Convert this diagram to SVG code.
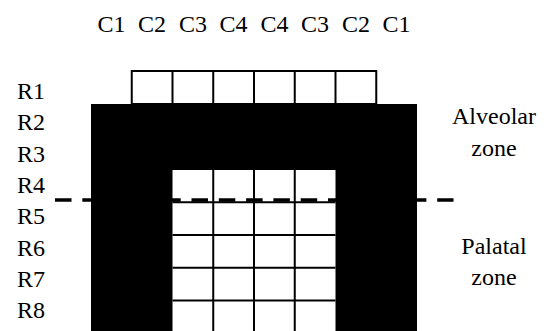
<svg xmlns="http://www.w3.org/2000/svg" width="544" height="331" viewBox="0 0 544 331">
  <style>
    text { font-family: "Liberation Serif", "Times New Roman", serif; font-size: 24px; fill: #000; }
    .mid { text-anchor: middle; }
    .grid { stroke: #000; stroke-width: 2; fill: none; }
  </style>
  <rect x="0" y="0" width="544" height="331" fill="#fff"/>

  <g id="column-labels">
    <text class="mid" x="111.4" y="32">C1</text>
    <text class="mid" x="152.1" y="32">C2</text>
    <text class="mid" x="192.9" y="32">C3</text>
    <text class="mid" x="233.6" y="32">C4</text>
    <text class="mid" x="274.4" y="32">C4</text>
    <text class="mid" x="315.1" y="32">C3</text>
    <text class="mid" x="355.9" y="32">C2</text>
    <text class="mid" x="396.6" y="32">C1</text>
  </g>

  <g id="row-labels">
    <text x="17" y="99">R1</text>
    <text x="17" y="130.3">R2</text>
    <text x="17" y="161.6">R3</text>
    <text x="17" y="192.9">R4</text>
    <text x="17" y="224.2">R5</text>
    <text x="17" y="255.5">R6</text>
    <text x="17" y="286.8">R7</text>
    <text x="17" y="318.1">R8</text>
  </g>

  <g id="top-row">
    <rect class="grid" x="131.75" y="71" width="244.5" height="33" fill="#fff"/>
    <path class="grid" d="M172.5 71V104M213.25 71V104M254 71V104M294.75 71V104M335.5 71V104"/>
  </g>

  <g id="black-zone">
    <rect x="91" y="104" width="326" height="227" fill="#000"/>
    <rect x="172.5" y="170" width="163" height="161" fill="#fff"/>
  </g>

  <g id="inner-grid">
    <path class="grid" d="M213.25 170V331M254 170V331M294.75 170V331M172.5 202.2H335.5M172.5 235H335.5M172.5 267.8H335.5M172.5 300.6H335.5"/>
  </g>

  <g id="connectors">
    <line x1="55" y1="200" x2="453.5" y2="200" stroke="#000" stroke-width="3.5" stroke-dasharray="16.5 10.8"/>
  </g>

  <g id="zone-labels">
    <text class="mid" x="494" y="124">Alveolar</text>
    <text class="mid" x="494" y="156">zone</text>
    <text class="mid" x="494" y="254">Palatal</text>
    <text class="mid" x="494" y="285">zone</text>
  </g>
</svg>
